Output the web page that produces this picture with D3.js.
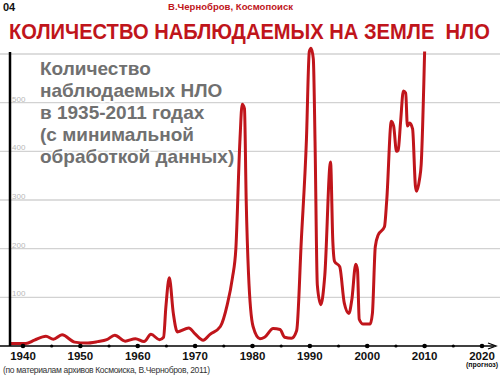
<!DOCTYPE html>
<html>
<head>
<meta charset="utf-8">
<script src="https://cdn.jsdelivr.net/npm/d3@7"></script>
<style>
    body { margin: 0; background: #fff; }
    svg { font-family: 'Liberation Sans', Arial, sans-serif; }
</style>
</head>
<body>
<div id="d3container"></div>
<script>
var years = [1937.8, 1940.5, 1942, 1944, 1945.3, 1946.8, 1949, 1951, 1953, 1954.6,
    1956, 1957.8, 1959.6, 1961.1, 1962.3, 1963.8, 1964.5, 1964.9, 1965.5, 1966.2,
    1966.9, 1968.9, 1970, 1971.4, 1972.6, 1974.4, 1975.6, 1976.5, 1977.1, 1977.8,
    1978.2, 1978.6, 1978.9, 1979.3, 1980.1, 1981.3, 1982.1, 1983.6, 1984.8, 1985.6,
    1986.8, 1987.7, 1988.5, 1989.4, 1989.9, 1990.2, 1990.6, 1990.9, 1991.3, 1991.9,
    1992.6, 1993.6, 1994, 1994.3, 1995.2, 1996, 1996.8, 1997.3, 1998, 1998.3,
    1998.6, 1999.3, 2000.5, 2000.9, 2001.4, 2001.9, 2003, 2003.4, 2004.2, 2004.6,
    2005.1, 2005.4, 2005.8, 2006.3, 2006.7, 2007, 2007.4, 2007.9, 2008.4, 2008.6,
    2009.1, 2009.4, 2010];
var counts = [5, 5, 12, 20, 14, 23, 8, 6, 9, 13,
    22, 10, 15, 9, 24, 13, 18, 80, 140, 67,
    29, 37, 25, 12, 24, 40, 85, 140, 200, 420,
    497, 488, 300, 150, 40, 15, 18, 36, 34, 18,
    16, 32, 215, 424, 605, 612, 590, 420, 125, 85,
    145, 378, 215, 174, 163, 88, 67, 94, 168, 156,
    55, 45, 45, 67, 204, 228, 245, 300, 462, 452,
    400, 403, 459, 524, 520, 452, 458, 446, 328, 318,
    342, 373, 605];
var decadeTicks = [1940, 1950, 1960, 1970, 1980, 1990, 2000, 2010, 2020];
var minorTicks = [1945, 1955, 1965, 1975, 1985, 1995, 2005, 2015];
var gridValues = [100, 200, 300, 400, 500, 600];
var labelValues = [100, 200, 300, 400, 500];
var noteLines = ['Количество', 'наблюдаемых НЛО', 'в 1935-2011 годах', '(с минимальной', 'обработкой данных)'];

var data = years.map(function (y, i) {
    return {year: y, count: counts[i]};
});

var width = 500;
var height = 375;
var red = '#c0151b';

var x = d3.scaleLinear().domain([1940, 2020]).range([23, 482]);
var y = d3.scaleLinear().domain([0, 600]).range([346, 54]);
var axisX = 10;

var svg = d3.select('#d3container')
    .append('svg')
    .attr('width', width)
    .attr('height', height);

// сетка
svg.append('g')
    .selectAll('line')
    .data(gridValues)
    .enter().append('line')
    .attr('x1', 0)
    .attr('x2', width)
    .attr('y1', function (d) { return y(d); })
    .attr('y2', function (d) { return y(d); })
    .attr('stroke', '#d2d2d2')
    .attr('stroke-width', 1.3);

svg.append('g')
    .selectAll('text')
    .data(labelValues)
    .enter().append('text')
    .attr('x', axisX + 2)
    .attr('y', function (d) { return y(d) - 1; })
    .attr('font-size', 8)
    .attr('fill', '#b8b8b8')
    .text(function (d) { return d; });

// подпись слева вверху
var note = svg.append('text')
    .attr('x', 40)
    .attr('font-size', 19)
    .attr('font-weight', 'bold')
    .attr('fill', '#707070')
    .attr('stroke', '#fff')
    .attr('stroke-width', 3)
    .attr('paint-order', 'stroke');
note.selectAll('tspan')
    .data(noteLines)
    .enter().append('tspan')
    .attr('x', 40)
    .attr('y', function (d, i) { return 75 + i * 22; })
    .text(function (d) { return d; });

// линия данных
var line = d3.line()
    .curve(d3.curveMonotoneX)
    .x(function (d) { return x(d.year); })
    .y(function (d) { return y(d.count); });

svg.append('path')
    .attr('d', line(data))
    .attr('fill', 'none')
    .attr('stroke', red)
    .attr('stroke-width', 3)
    .attr('stroke-linejoin', 'round');

// оси
svg.append('line')
    .attr('x1', axisX).attr('x2', axisX)
    .attr('y1', 52).attr('y2', y(0))
    .attr('stroke', '#000')
    .attr('stroke-width', 2.5);

svg.append('line')
    .attr('x1', axisX - 10).attr('x2', 494)
    .attr('y1', y(0)).attr('y2', y(0))
    .attr('stroke', '#000')
    .attr('stroke-width', 1.5);

svg.append('path')
    .attr('d', 'M' + 488 + ',' + (y(0) - 3) + 'L' + 496 + ',' + y(0) + 'L' + 488 + ',' + (y(0) + 3))
    .attr('fill', 'none')
    .attr('stroke', '#000')
    .attr('stroke-width', 1.3);

svg.append('g')
    .selectAll('circle')
    .data(decadeTicks)
    .enter().append('circle')
    .attr('cx', function (d) { return x(d); })
    .attr('cy', y(0))
    .attr('r', 2.3)
    .attr('fill', '#000');

svg.append('g')
    .selectAll('circle')
    .data(minorTicks)
    .enter().append('circle')
    .attr('cx', function (d) { return x(d); })
    .attr('cy', y(0))
    .attr('r', 1.6)
    .attr('fill', '#000');

svg.append('g')
    .selectAll('text')
    .data(decadeTicks)
    .enter().append('text')
    .attr('x', function (d) { return x(d); })
    .attr('y', 360)
    .attr('text-anchor', 'middle')
    .attr('font-size', 11.5)
    .attr('font-weight', 'bold')
    .attr('fill', '#111')
    .text(function (d) { return d; });

svg.append('text')
    .attr('x', x(2020))
    .attr('y', 367)
    .attr('text-anchor', 'middle')
    .attr('font-size', 7)
    .attr('font-weight', 'bold')
    .attr('fill', '#111')
    .text('(прогноз)');

// заголовки
svg.append('text')
    .attr('x', 3)
    .attr('y', 11)
    .attr('font-size', 11)
    .attr('font-weight', 'bold')
    .attr('fill', '#111')
    .text('04');

svg.append('text')
    .attr('x', 168)
    .attr('y', 10)
    .attr('font-size', 9.5)
    .attr('font-weight', 'bold')
    .attr('fill', red)
    .attr('textLength', 125)
    .text('В.Чернобров, Космопоиск');

// заголовок сжимаем по ширине через transform, чтобы он влез в 481px
var title = svg.append('text')
    .attr('x', 0)
    .attr('y', 0)
    .attr('font-size', 22)
    .attr('font-weight', 'bold')
    .attr('fill', red)
    .style('white-space', 'pre')
    .text('КОЛИЧЕСТВО НАБЛЮДАЕМЫХ НА ЗЕМЛЕ  НЛО');
var titleW = title.node().getComputedTextLength();
title.attr('transform', 'translate(9,39) scale(' + (481 / titleW) + ',1)');

svg.append('text')
    .attr('x', 3)
    .attr('y', 373)
    .attr('font-size', 8.5)
    .attr('fill', '#333')
    .attr('textLength', 207)
    .text('(по материалам архивов Космоиска, В.Чернобров, 2011)');
</script>
</body>
</html>
